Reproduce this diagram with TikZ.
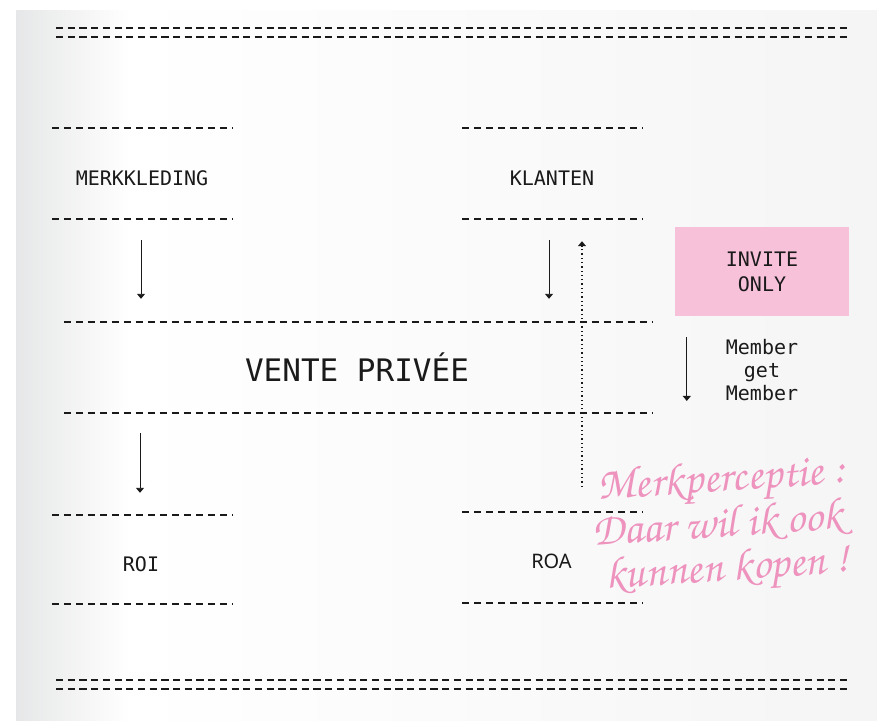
\documentclass[tikz,border=0pt]{standalone}
\usepackage[T1,TU]{fontenc}
\usepackage{fontspec}
\setmonofont{DejaVu Sans Mono}
\newfontfamily\roafont{Noto Sans}
\usetikzlibrary{arrows.meta}
\definecolor{invitepink}{HTML}{F7C1DA}
\definecolor{handpink}{HTML}{EE92BE}
\definecolor{pageleft}{HTML}{E6E7E8}
\definecolor{pageright}{HTML}{F5F5F5}
\definecolor{ink}{HTML}{1A1A1A}
\newcommand\myhandfont{\fontencoding{T1}\fontfamily{pzc}\fontseries{mb}\fontshape{it}\fontsize{45}{45}\selectfont}
\begin{document}
\begin{tikzpicture}[x=1pt,y=-1pt,
  every node/.style={font=\ttfamily\fontsize{20}{23}\selectfont, text=ink, inner sep=0pt},
  dashline/.style={draw=ink, line width=1.5pt, dash pattern=on 7pt off 5pt},
  dblline/.style={draw=ink, line width=2pt, dash pattern=on 7.2pt off 4.5pt},
  boxnode/.style={minimum width=180pt, minimum height=91pt},
  flow/.style={draw=ink, line width=0.9pt, -{Triangle[width=8pt,length=5pt]}},
  dotflow/.style={flow, line width=1.3pt, dash pattern=on 1.3pt off 3pt},
  hand/.style={font=\myhandfont, text=handpink, rotate=4, anchor=base west}]
\useasboundingbox (0,0) rectangle (877,720);
% page
\fill[white] (0,0) rectangle (877,720);
\shade[left color=pageleft, right color=white] (16,10) rectangle (130,720);
\shade[left color=white, right color=pageright] (130,10) rectangle (877,720);

% double rules
\coordinate (tl) at (56,36.5); \coordinate (tr) at (848,36.5);
\draw[dblline] (tl) -- (tr);
\draw[dblline] ([yshift=8.5pt]tl) -- ([yshift=8.5pt]tr);
\coordinate (bl) at (56,689); \coordinate (br) at (848,689);
\draw[dblline] (bl) -- (br);
\draw[dblline] ([yshift=9pt]bl) -- ([yshift=9pt]br);

% boxes
\node[boxnode] (merkbox) at (142,173.5) {};
\node (merk) at (142,178) {MERKKLEDING};
\node[boxnode] (klantbox) at (552.5,173.5) {};
\node (klant) at (552,178) {KLANTEN};
\node[boxnode, minimum width=589pt] (ventebox) at (358.5,367.5) {};
\node[font=\ttfamily\fontsize{31}{34}\selectfont] (vente) at (357,367) {VENTE PRIVÉE};
\node[boxnode, minimum height=89pt] (roibox) at (142,559.5) {};
\node (roi) at (141,564) {ROI};
\node[boxnode] (roabox) at (552.5,557.5) {};
\node[font=\roafont\fontsize{20}{22}\selectfont] (roa) at (551.5,561) {ROA};

\foreach \b in {merkbox,klantbox,ventebox,roibox,roabox}{
  \draw[dashline] (\b.north west) -- (\b.north east);
  \draw[dashline] (\b.south west) -- (\b.south east);
}

% invite only
\node[fill=invitepink, minimum width=174pt, minimum height=89pt, align=center,
      font=\ttfamily\fontsize{20}{25}\selectfont] (invite) at (762,271.5) {INVITE\\ONLY};
\node[align=center] (member) at (762,370) {Member\\get\\Member};

% arrows
\draw[flow, shorten <=21pt, shorten >=23pt] ([xshift=-1pt]merkbox.south) -- ([xshift=-1pt]merkbox.south |- ventebox.north);
\draw[flow, shorten <=21pt, shorten >=23pt] ([xshift=-3.5pt]klantbox.south) -- ([xshift=-3.5pt]klantbox.south |- ventebox.north);
\draw[flow, shorten <=20pt, shorten >=22pt] ([xshift=-2pt]roibox.north |- ventebox.south) -- ([xshift=-2pt]roibox.north);
\draw[dotflow, shorten <=25pt, shorten >=22pt] ([xshift=29.5pt]roabox.north) -- ([xshift=29.5pt]roabox.north |- klantbox.south);
\draw[flow, shorten <=21pt] ([xshift=12pt]invite.south west) -- ([xshift=12pt]invite.south west |- member.south);

% handwritten note
\node[hand] (note1) at (598,500) {Merkperceptie :};
\node[hand] (note2) at (593,546) {Daar wil ik ook};
\node[hand] (note3) at (606,589) {kunnen kopen !};
\end{tikzpicture}
\end{document}
